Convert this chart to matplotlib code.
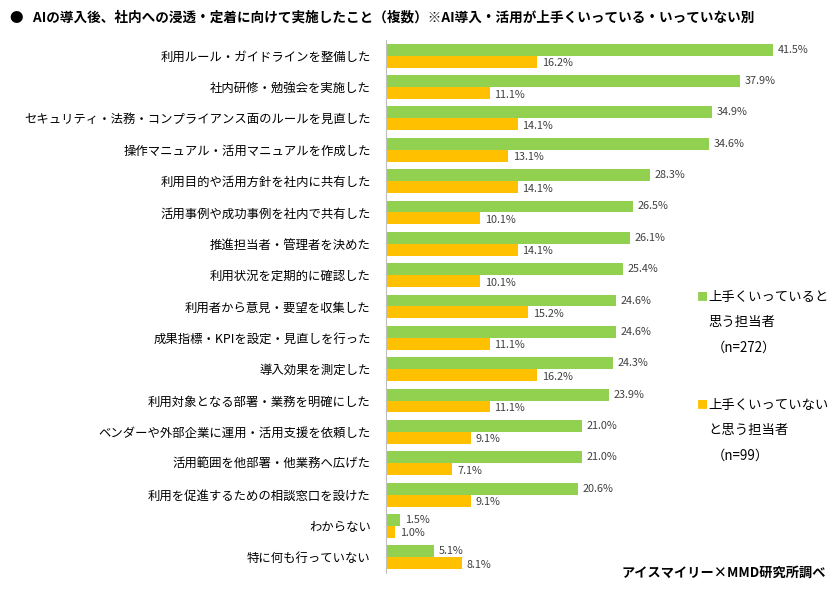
import matplotlib.pyplot as plt
import numpy as np

plt.rcParams['font.family'] = ['Noto Sans CJK JP', 'DejaVu Sans']

categories = [
    '利用ルール・ガイドラインを整備した',
    '社内研修・勉強会を実施した',
    'セキュリティ・法務・コンプライアンス面のルールを見直した',
    '操作マニュアル・活用マニュアルを作成した',
    '利用目的や活用方針を社内に共有した',
    '活用事例や成功事例を社内で共有した',
    '推進担当者・管理者を決めた',
    '利用状況を定期的に確認した',
    '利用者から意見・要望を収集した',
    '成果指標・KPIを設定・見直しを行った',
    '導入効果を測定した',
    '利用対象となる部署・業務を明確にした',
    'ベンダーや外部企業に運用・活用支援を依頼した',
    '活用範囲を他部署・他業務へ広げた',
    '利用を促進するための相談窓口を設けた',
    'わからない',
    '特に何も行っていない',
]
good = [41.5, 37.9, 34.9, 34.6, 28.3, 26.5, 26.1, 25.4, 24.6, 24.6, 24.3, 23.9, 21.0, 21.0, 20.6, 1.5, 5.1]
bad = [16.2, 11.1, 14.1, 13.1, 14.1, 10.1, 14.1, 10.1, 15.2, 11.1, 16.2, 11.1, 9.1, 7.1, 9.1, 1.0, 8.1]

green = '#92D050'
yellow = '#FFC000'

fig = plt.figure(figsize=(8.37, 5.89), dpi=100)
ax = fig.add_axes([386 / 837, 1 - 573 / 589, 420 / 837, 533 / 589])

y = np.arange(len(categories))
h = 0.38
ax.barh(y - h / 2, good, height=h, color=green)
ax.barh(y + h / 2, bad, height=h, color=yellow)

for i in range(len(categories)):
    ax.text(good[i] + 0.5, y[i] - h / 2, f'{good[i]:.1f}%', va='center', ha='left', fontsize=7.8, color='#404040')
    ax.text(bad[i] + 0.5, y[i] + h / 2 + 0.05, f'{bad[i]:.1f}%', va='center', ha='left', fontsize=7.8, color='#404040')

ax.set_yticks(y)
ax.set_yticklabels(categories, fontsize=8.9)
ax.tick_params(axis='y', length=0, pad=11)
ax.set_ylim(len(categories) - 0.5, -0.5)
ax.set_xlim(0, 45)
ax.set_xticks([])
for s in ['top', 'right', 'bottom']:
    ax.spines[s].set_visible(False)
ax.spines['left'].set_color('#BFBFBF')

# title and source
fig.text(10 / 837, 1 - 18 / 589, '●   AIの導入後、社内への浸透・定着に向けて実施したこと（複数）※AI導入・活用が上手くいっている・いっていない別',
         fontsize=9.8, fontweight='bold', va='center', ha='left')
fig.text(826 / 837, 1 - 573 / 589, 'アイスマイリー×MMD研究所調べ', fontsize=9.5, fontweight='bold', va='center', ha='right')

# legend
fig.text(697 / 837, 1 - 297 / 589, '■', color=green, fontsize=8, va='center', ha='left')
fig.text(708 / 837, 1 - 297 / 589, '上手くいっていると', fontsize=9.6, va='center', ha='left')
fig.text(708 / 837, 1 - 322 / 589, '思う担当者', fontsize=9.6, va='center', ha='left')
fig.text(712 / 837, 1 - 348 / 589, '（n=272）', fontsize=9.6, va='center', ha='left')
fig.text(697 / 837, 1 - 405 / 589, '■', color=yellow, fontsize=8, va='center', ha='left')
fig.text(708 / 837, 1 - 405 / 589, '上手くいっていない', fontsize=9.6, va='center', ha='left')
fig.text(708 / 837, 1 - 430 / 589, 'と思う担当者', fontsize=9.6, va='center', ha='left')
fig.text(712 / 837, 1 - 456 / 589, '（n=99）', fontsize=9.6, va='center', ha='left')

fig.savefig('out.png', dpi=100)
